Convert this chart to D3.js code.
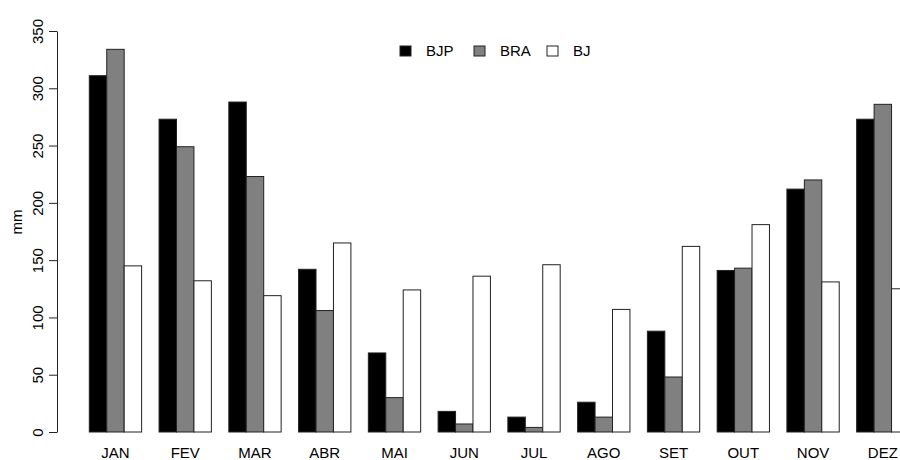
<!DOCTYPE html>
<html>
<head>
<meta charset="utf-8">
<script src="https://cdn.jsdelivr.net/npm/d3@7"></script>
<style>
  html, body { margin: 0; padding: 0; background: #fff; }
  svg { display: block; font-family: "Liberation Sans", Arial, sans-serif; }
</style>
</head>
<body>
<svg id="chart" width="900" height="460"></svg>
<script>
const months = ["JAN","FEV","MAR","ABR","MAI","JUN","JUL","AGO","SET","OUT","NOV","DEZ"];
const seriesNames = ["BJP","BRA","BJ"];
const BJP = [311, 273, 288, 142, 69, 18, 13, 26, 88, 141, 212, 273];
const BRA = [334, 249, 223, 106, 30, 7, 4, 13, 48, 143, 220, 286];
const BJ  = [145, 132, 119, 165, 124, 136, 146, 107, 162, 181, 131, 125];
const yTicks = [0, 50, 100, 150, 200, 250, 300, 350];
const colors = ["#000000", "#808080", "#ffffff"];

const seriesValues = [BJP, BRA, BJ];
const svg = d3.select("#chart");

const y = d3.scaleLinear().domain([0, 350]).range([432, 31]);
const unit = 17.44;
const x = d3.scaleBand().domain(months)
  .range([89.3, 89.3 + 11 * unit * 4 + 3 * unit])
  .paddingInner(0.25).paddingOuter(0);
const xs = d3.scaleBand().domain(seriesNames).range([0, x.bandwidth()]).padding(0);

// bars
const groups = svg.append("g").selectAll("g").data(months).join("g")
  .attr("transform", d => `translate(${x(d)},0)`);
groups.selectAll("rect")
  .data((m, i) => seriesNames.map((s, j) => ({ s, v: seriesValues[j][i], c: colors[j] })))
  .join("rect")
  .attr("x", d => xs(d.s))
  .attr("y", d => y(d.v))
  .attr("width", xs.bandwidth())
  .attr("height", d => y(0) - y(d.v))
  .attr("fill", d => d.c)
  .attr("stroke", "#222")
  .attr("stroke-width", 1);

// y axis
const yAxis = svg.append("g").attr("transform", "translate(57,0)")
  .call(d3.axisLeft(y).tickValues(yTicks).tickSize(8).tickSizeOuter(0).tickPadding(0));
yAxis.select(".domain").attr("stroke", "#222");
yAxis.selectAll(".tick line").attr("stroke", "#222");
yAxis.selectAll(".tick text")
  .attr("font-size", 15)
  .attr("font-family", "Liberation Sans, Arial, sans-serif")
  .attr("fill", "#000")
  .attr("x", 0).attr("dy", 0)
  .attr("text-anchor", "middle")
  .attr("transform", "translate(-14,0) rotate(-90)");

// y label
svg.append("text")
  .attr("transform", "translate(22,222) rotate(-90)")
  .attr("text-anchor", "middle")
  .attr("font-size", 15)
  .text("mm");

// x labels
svg.append("g").selectAll("text").data(months).join("text")
  .attr("x", d => x(d) + x.bandwidth() / 2)
  .attr("y", 458)
  .attr("text-anchor", "middle")
  .attr("font-size", 15)
  .text(d => d);

// legend
const legendX = [400, 474, 547];
const leg = svg.append("g").selectAll("g").data(seriesNames).join("g")
  .attr("transform", (d, i) => `translate(${legendX[i]},46)`);
leg.append("rect")
  .attr("width", 11).attr("height", 10)
  .attr("fill", (d, i) => colors[i])
  .attr("stroke", "#222");
leg.append("text")
  .attr("x", 26).attr("y", 10)
  .attr("font-size", 15)
  .text(d => d);
</script>
</body>
</html>
